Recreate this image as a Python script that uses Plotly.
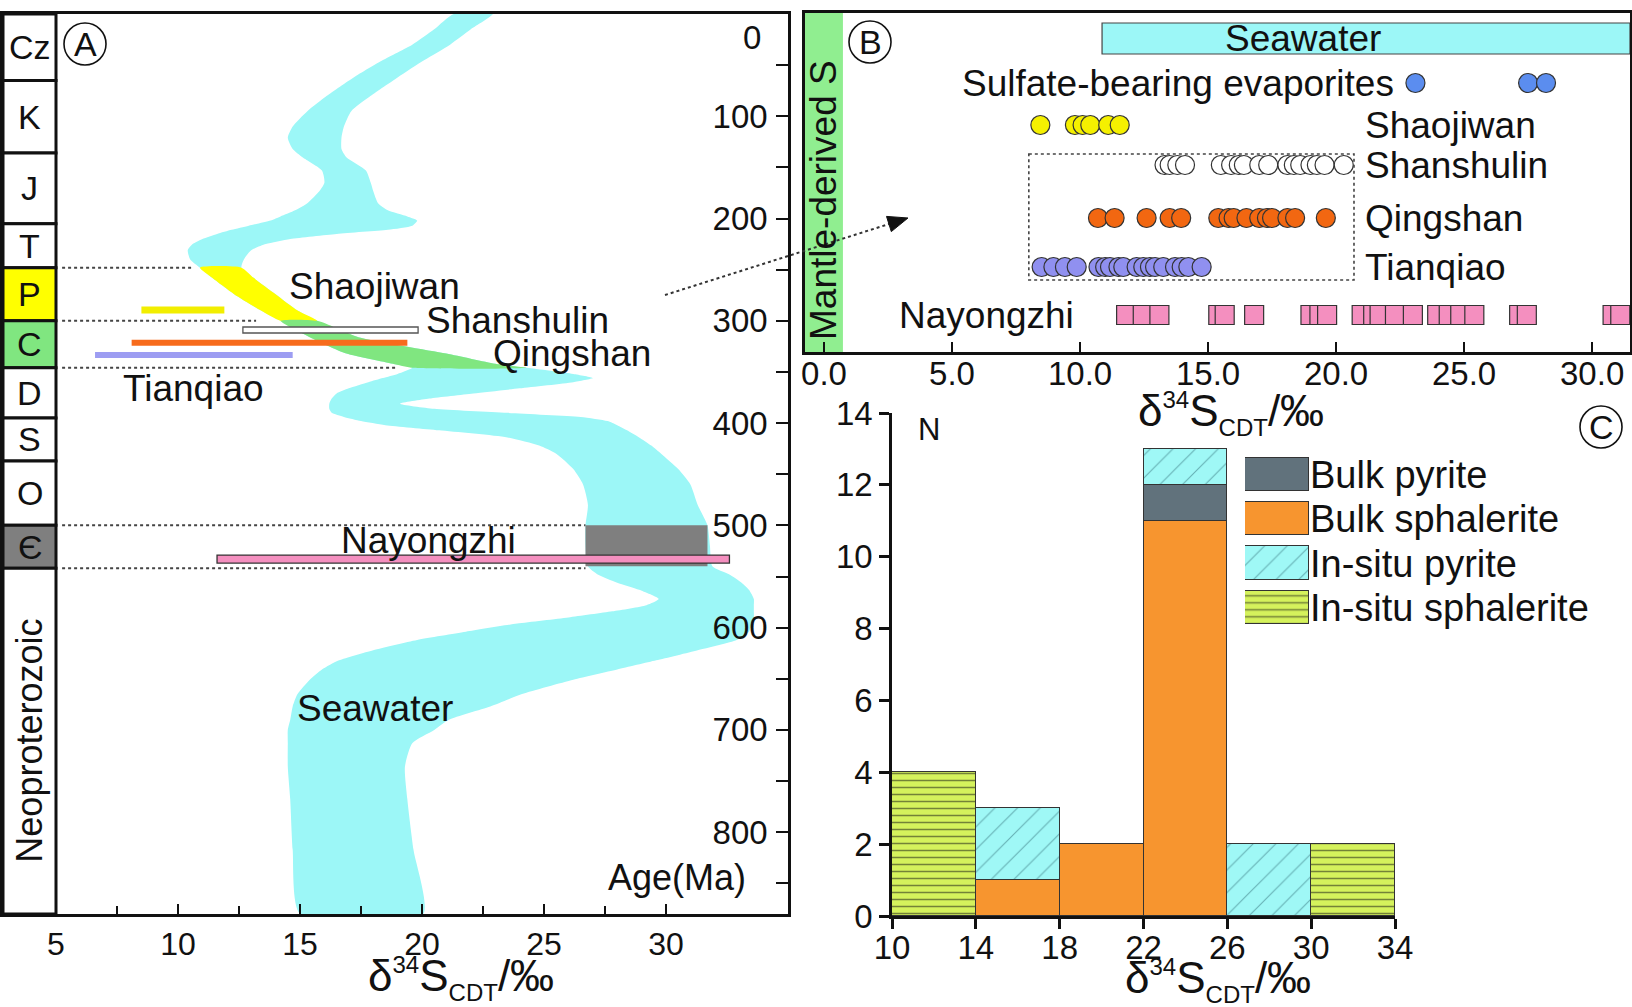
import plotly.graph_objects as go

W, H = 1632, 1007
def X(px): return px / W
def Y(py): return 1 - py / H

FONT = "Liberation Sans, Arial, Helvetica, sans-serif"
NARROW = "Liberation Sans Narrow, Arial Narrow, Liberation Sans, Arial, sans-serif"
BLACK = "#111111"
CYAN = "#9cf7f7"
YELLOW = "#ffff00"
GREEN = "#80e680"
MANTLE = "#90ee90"
GRAY = "#7f7f7f"
PINK = "#f48fbf"

# ---------------- Panel A data ----------------
# seawater sulfate d34S band: age (Ma), left edge, right edge (permil)
sw_age = [0, 15, 30, 45, 62, 80, 95, 110, 121, 132, 140, 153, 165, 173, 185, 192, 198, 202,
          207, 211, 215, 220, 225, 231, 240, 248, 258, 274, 290, 300, 316, 332, 342, 346,
          352, 356, 360, 366, 371, 376, 381, 386, 390, 394, 398, 402, 407, 414, 422, 430,
          445, 460, 480, 500, 520, 540, 548, 556, 563, 572, 578, 584, 590, 596, 604, 612,
          622, 632, 641, 651, 665, 677, 690, 700, 713, 736, 768, 817, 880]
sw_left = [21.3, 20.5, 19.6, 18.4, 17.2, 16.1, 15.3, 14.7, 14.5, 14.7, 15.1, 15.9, 16.0, 15.8,
           15.3, 14.8, 14.2, 13.8, 12.9, 12.2, 11.6, 11.0, 10.6, 10.4, 10.5, 10.9, 11.4, 12.3,
           13.4, 14.2, 15.4, 16.9, 18.8, 19.6, 19.0, 18.4, 17.8, 17.0, 16.5, 16.3, 16.2, 16.2,
           16.3, 16.8, 17.5, 18.5, 20.7, 23.5, 24.8, 25.5, 26.2, 26.6, 26.8, 26.7, 26.7, 26.8,
           27.2, 28.0, 28.9, 29.7, 29.2, 27.8, 26.0, 23.9, 21.8, 19.8, 18.0, 16.6, 15.9, 15.4,
           14.9, 14.7, 14.6, 14.5, 14.5, 14.5, 14.6, 14.7, 15.0]
sw_right = [22.9, 22.0, 21.15, 20.1, 19.0, 17.9, 17.1, 16.8, 16.7, 16.7, 16.9, 17.7, 17.9, 18.0,
            18.2, 18.6, 19.4, 19.8, 19.6, 18.6, 16.5, 14.6, 13.6, 13.0, 12.7, 12.6, 13.1, 14.0,
            14.9, 15.7, 17.4, 21.0, 23.0, 24.3, 26.2, 27.0, 26.2, 24.0, 22.1, 20.3, 19.1, 20.5,
            23.5, 26.5, 27.6, 28.0, 28.4, 28.9, 29.4, 29.8, 30.5, 31.0, 31.3, 31.7, 31.8, 31.9,
            32.6, 33.1, 33.4, 33.6, 33.6, 33.6, 33.6, 33.5, 33.4, 32.9, 31.3, 29.6, 28.0, 26.2,
            24.1, 22.8, 21.1, 20.5, 19.6, 19.3, 19.4, 19.65, 20.05]

periods = ["Cz", "K", "J", "T", "P", "C", "D", "S", "O", "Є", "Neoproterozoic"]
period_top = [0, 65, 136, 205, 248, 300, 346, 395, 437, 500, 542]
period_bottom = [65, 136, 205, 248, 300, 346, 395, 437, 500, 542, 880]

a_deposits = ["Shaojiwan", "Shanshulin", "Qingshan", "Tianqiao", "Nayongzhi"]
a_min = [8.5, 12.66, 8.1, 6.6, 11.6]
a_max = [11.9, 19.84, 19.4, 14.7, 32.6]
a_age = [289.5, 309.0, 321.5, 333.5, 533.0]

nay_sw_range = [26.7, 31.7]      # Nayongzhi-age seawater window
nay_sw_age = [500, 540]

boundary_ages = [248, 300, 346, 500, 542]
boundary_end = [10.6, 13.2, 18.9, 26.7, 26.7]

age_ticks = [100, 200, 300, 400, 500, 600, 700, 800]
a_xticks = [5, 10, 15, 20, 25, 30, 35]

# ---------------- Panel B data ----------------
evaporites = [23.1, 27.5, 28.2]
shaojiwan = [8.45, 9.8, 10.1, 10.4, 11.1, 11.55]
shanshulin = [13.3, 13.5, 13.8, 14.1, 15.5, 15.9, 16.2, 16.4, 17.0, 17.35, 18.1, 18.35,
              18.6, 19.0, 19.25, 19.55, 20.3]
qingshan = [10.7, 11.35, 12.6, 13.5, 13.95, 15.4, 15.8, 16.0, 16.5, 17.0, 17.3, 17.5,
            18.1, 18.4, 19.6]
tianqiao = [8.5, 8.96, 9.41, 9.87, 10.72, 10.98, 11.17, 11.5, 11.69, 12.21, 12.47, 12.73,
            12.93, 13.25, 13.71, 13.97, 14.23, 14.75]
nayongzhi = [11.8, 12.45, 13.1, 15.4, 15.65, 16.8, 19.0, 19.35, 19.65, 21.0, 21.45, 21.7,
             22.3, 23.0, 23.95, 24.4, 24.85, 25.4, 27.15, 27.45, 30.8, 31.1]
seawater_b = [10.86, 31.48]
mantle_range = [-0.742, 0.74]
b_xticks = [0, 5, 10, 15, 20, 25, 30]
b_xticklabels = ["0.0", "5.0", "10.0", "15.0", "20.0", "25.0", "30.0"]

# ---------------- Panel C data ----------------
bin_left = [10, 14, 18, 22, 26, 30]
bin_width = 4
bulk_pyrite = [0, 0, 0, 1, 0, 0]
bulk_sphalerite = [0, 1, 2, 11, 0, 0]
insitu_pyrite = [0, 2, 0, 1, 2, 0]
insitu_sphalerite = [4, 0, 0, 0, 0, 2]
c_xticks = [10, 14, 18, 22, 26, 30, 34]
c_yticks = [0, 2, 4, 6, 8, 10, 12, 14]

# ---------------- layout constants ----------------
A_XMIN, A_XMAX = 2.828, 35
A_YMAX = 880
PX_PER_MA = 900 / A_YMAX
B_ROW_UNIT = 339 / 7.0
def brow(py): return (py - 13) / B_ROW_UNIT
row_pos = {"Seawater": brow(38.5), "Sulfate-bearing evaporites": brow(83),
           "Shaojiwan": brow(125), "Shanshulin": brow(165), "Qingshan": brow(218),
           "Tianqiao": brow(267), "Nayongzhi": brow(315)}

fig = go.Figure()
shapes = []
ann = []

# ---- seawater band (panel A)
def band(i0, i1):
    ages = sw_age[i0:i1 + 1]
    xs = sw_left[i0:i1 + 1] + sw_right[i0:i1 + 1][::-1]
    ys = ages + ages[::-1]
    return xs + [xs[0]], ys + [ys[0]]

for (i0, i1, col) in [(0, len(sw_age) - 1, CYAN),
                      (sw_age.index(248), sw_age.index(300), YELLOW),
                      (sw_age.index(300), sw_age.index(346), GREEN)]:
    xs, ys = band(i0, i1)
    fig.add_trace(go.Scatter(x=xs, y=ys, fill="toself", fillcolor=col, mode="lines",
                             line=dict(width=0, color=col, shape="spline", smoothing=0.6),
                             xaxis="x", yaxis="y", hoverinfo="skip", showlegend=False))

# period column
period_colors = {"P": YELLOW, "C": GREEN, "Є": GRAY}
for name, top, bot in zip(periods, period_top, period_bottom):
    shapes.append(dict(type="rect", xref="x", yref="y", x0=A_XMIN, x1=5, y0=top, y1=bot,
                       fillcolor=period_colors.get(name, "white"),
                       line=dict(color=BLACK, width=3), layer="above"))
    ann.append(dict(xref="x", yref="y", x=(A_XMIN + 5) / 2, y=(top + bot) / 2, text=name,
                    showarrow=False, textangle=-90 if len(name) > 2 else 0,
                    xanchor="center", yanchor="middle",
                    font=dict(family=FONT, size=36 if len(name) > 2 else 34, color=BLACK)))

# dotted boundaries
for age, xe in zip(boundary_ages, boundary_end):
    shapes.append(dict(type="line", xref="x", yref="y", x0=5.25, x1=xe, y0=age, y1=age,
                       line=dict(color="#444444", width=2, dash="dot")))

# Nayongzhi seawater window
shapes.append(dict(type="rect", xref="x", yref="y", x0=nay_sw_range[0], x1=nay_sw_range[1],
                   y0=nay_sw_age[0], y1=nay_sw_age[1], fillcolor=GRAY, line=dict(width=0)))

a_style = {"Shaojiwan": (7, "#f2ee00", None), "Shanshulin": (6, "white", "#555555"),
           "Qingshan": (6, "#f76b1c", None), "Tianqiao": (6, "#9d9df2", None),
           "Nayongzhi": (8, PINK, "#333333")}
for name, lo, hi, age in zip(a_deposits, a_min, a_max, a_age):
    th, fc, lc = a_style[name]
    h = th / PX_PER_MA / 2
    shapes.append(dict(type="rect", xref="x", yref="y", x0=lo, x1=hi, y0=age - h, y1=age + h,
                       fillcolor=fc, line=dict(color=lc or fc, width=1.3 if lc else 0)))

LBL = dict(family=FONT, size=37, color=BLACK)
for txt, px, py, xa in [("Shaojiwan", 374, 287, "center"), ("Shanshulin", 424, 320, "left"),
                        ("Qingshan", 572, 353, "center"), ("Tianqiao", 193, 388, "center"),
                        ("Nayongzhi", 428, 540, "center"), ("Seawater", 375, 708, "center")]:
    ann.append(dict(xref="paper", yref="paper", x=X(px), y=Y(py), text=txt, showarrow=False,
                    xanchor=xa, yanchor="middle", font=LBL))
ann.append(dict(xref="paper", yref="paper", x=X(748), y=Y(877), text="Age(Ma)", showarrow=False,
                xanchor="right", yanchor="middle", font=dict(family=FONT, size=36, color=BLACK)))
ann.append(dict(xref="paper", yref="paper", x=X(763), y=Y(38), text="0", showarrow=False,
                xanchor="right", yanchor="middle", font=dict(family=FONT, size=33, color=BLACK)))

TITLE = "δ<sup><span style='font-size:24px'>34</span></sup>S<sub><span style='font-size:24px'>CDT</span></sub>/‰"
for px, py in [(461, 978), (1231, 413), (1218, 980)]:
    ann.append(dict(xref="paper", yref="paper", x=X(px), y=Y(py), text=TITLE, showarrow=False,
                    xanchor="center", yanchor="middle", font=dict(family=FONT, size=44, color=BLACK)))

# circled letters
for letter, cx, cy in [("A", 85, 44), ("B", 870, 42), ("C", 1601, 427)]:
    r = 21
    shapes.append(dict(type="circle", xref="paper", yref="paper", x0=X(cx - r), x1=X(cx + r),
                       y0=Y(cy + r), y1=Y(cy - r), line=dict(color=BLACK, width=1.6)))
    ann.append(dict(xref="paper", yref="paper", x=X(cx), y=Y(cy), text=letter, showarrow=False,
                    xanchor="center", yanchor="middle", font=dict(family=FONT, size=34, color=BLACK)))

# ---- Panel B
shapes.append(dict(type="rect", xref="x2", yref="y2 domain", x0=mantle_range[0], x1=mantle_range[1],
                   y0=0, y1=1, fillcolor=MANTLE, line=dict(width=0), layer="below"))
ann.append(dict(xref="paper", yref="paper", x=X(824), y=Y(200),
                text="Mantle-derived S", textangle=-90, showarrow=False,
                xanchor="center", yanchor="middle",
                font=dict(family=FONT, size=37, color=BLACK)))
sw_y = row_pos["Seawater"]
half = 15.5 / B_ROW_UNIT
shapes.append(dict(type="rect", xref="x2", yref="y2", x0=seawater_b[0], x1=seawater_b[1],
                   y0=sw_y - half, y1=sw_y + half, fillcolor=CYAN, line=dict(color="#444444", width=1.2)))
ann.append(dict(xref="x2", yref="y2", x=18.7, y=sw_y, text="Seawater", showarrow=False,
                font=LBL))
shapes.append(dict(type="rect", xref="x2", yref="y2", x0=8.0, x1=20.7, y0=brow(154), y1=brow(280),
                   line=dict(color="#444444", width=1.6, dash="dot")))

b_series = [("Sulfate-bearing evaporites", evaporites, "circle", "#5b8def"),
            ("Shaojiwan", shaojiwan, "circle", "#f5f000"),
            ("Shanshulin", shanshulin, "circle", "white"),
            ("Qingshan", qingshan, "circle", "#f26711"),
            ("Tianqiao", tianqiao, "circle", "#9090f0"),
            ("Nayongzhi", nayongzhi, "square", PINK)]
for name, vals, sym, col in b_series:
    fig.add_trace(go.Scatter(x=vals, y=[row_pos[name]] * len(vals), mode="markers",
                             marker=dict(symbol=sym, size=19, color=col,
                                         line=dict(color="#333333", width=1.2)),
                             xaxis="x2", yaxis="y2", hoverinfo="skip", showlegend=False))

for name, px, xa in [("Sulfate-bearing evaporites", 1396, "right"), ("Nayongzhi", 1076, "right"),
                     ("Shaojiwan", 1363, "left"), ("Shanshulin", 1363, "left"),
                     ("Qingshan", 1363, "left"), ("Tianqiao", 1363, "left")]:
    ann.append(dict(xref="paper", yref="y2", x=X(px), y=row_pos[name], text=name, showarrow=False,
                    xanchor=xa, yanchor="middle", font=LBL))

# arrow from panel A to panel B
shapes.append(dict(type="line", xref="paper", yref="paper", x0=X(665), y0=Y(295), x1=X(889), y1=Y(224),
                   line=dict(color="#333333", width=2, dash="dot")))
tri = [(908, 218), (891.3, 231.6), (886.5, 216.4)]
path = "M " + " L ".join(f"{X(a):.5f},{Y(b):.5f}" for a, b in tri) + " Z"
shapes.append(dict(type="path", xref="paper", yref="paper", path=path, fillcolor=BLACK,
                   line=dict(color=BLACK, width=1)))

# ---- Panel C
centers = [b + bin_width / 2 for b in bin_left]
c_style = {
    "Bulk pyrite": dict(color="#61727c"),
    "Bulk sphalerite": dict(color="#f7952f"),
    "In-situ pyrite": dict(color="#9ff8f6", pattern=dict(shape="/", fgcolor="#2d6a73", size=16,
                                                         solidity=0.07, fillmode="overlay")),
    "In-situ sphalerite": dict(color="#d5f25c", pattern=dict(shape="-", fgcolor="#111111", size=7,
                                                             solidity=0.22, fillmode="overlay")),
}
for name, vals in [("Bulk sphalerite", bulk_sphalerite), ("Bulk pyrite", bulk_pyrite),
                   ("In-situ pyrite", insitu_pyrite), ("In-situ sphalerite", insitu_sphalerite)]:
    fig.add_trace(go.Bar(x=centers, y=[v if v else None for v in vals], width=bin_width,
                         marker=dict(line=dict(color="#333333", width=1), **c_style[name]),
                         xaxis="x3", yaxis="y3", hoverinfo="skip", showlegend=False))

legend_names = ["Bulk pyrite", "Bulk sphalerite", "In-situ pyrite", "In-situ sphalerite"]
for name in legend_names:
    fig.add_trace(go.Bar(x=[1], y=[name], orientation="h", width=0.75,
                         marker=dict(line=dict(color="#333333", width=1), **c_style[name]),
                         xaxis="x4", yaxis="y4", hoverinfo="skip", showlegend=False))

ann.append(dict(xref="paper", yref="paper", x=X(929), y=Y(429), text="N", showarrow=False,
                font=dict(family=FONT, size=31, color=BLACK)))

axis_common = dict(showgrid=False, zeroline=False, linecolor=BLACK, tickcolor=BLACK, automargin=False)
fig.update_layout(
    width=W, height=H, autosize=False, margin=dict(l=0, r=0, t=0, b=0, pad=0),
    paper_bgcolor="white", plot_bgcolor="rgba(0,0,0,0)", barmode="stack", bargap=0,
    showlegend=False, font=dict(family=FONT, color=BLACK),
    xaxis=dict(domain=[X(3), X(788)], range=[A_XMIN, A_XMAX], anchor="y", showline=True, mirror=True,
               linewidth=3, ticks="inside", ticklen=10, tickwidth=2, tickvals=a_xticks,
               tickfont=dict(family=NARROW, size=32, color=BLACK),
               minor=dict(tickvals=[v + 2.5 for v in a_xticks[:-1]], ticks="inside", ticklen=8,
                          tickwidth=2, tickcolor=BLACK), **axis_common),
    yaxis=dict(domain=[Y(914), Y(14)], range=[A_YMAX, 0], anchor="x", side="right", showline=True,
               mirror=True, linewidth=3, ticks="inside", ticklen=12, tickwidth=2, tickvals=age_ticks,
               ticklabelposition="inside", ticklabelstandoff=12,
               tickfont=dict(family=FONT, size=33, color=BLACK),
               minor=dict(tickvals=[v - 50 for v in age_ticks] + [850], ticks="inside", ticklen=12,
                          tickwidth=2, tickcolor=BLACK), **axis_common),
    xaxis2=dict(domain=[X(805), X(1630)], range=[mantle_range[0], seawater_b[1]], anchor="y2",
                showline=True, mirror=True, linewidth=3, ticks="inside", ticklen=10, tickwidth=2,
                tickvals=b_xticks, ticktext=b_xticklabels, ticklabelstandoff=-10,
                tickfont=dict(family=FONT, size=33, color=BLACK), **axis_common),
    yaxis2=dict(domain=[Y(352), Y(13)], range=[7, 0], anchor="x2", showline=True, mirror=True,
                linewidth=3, showticklabels=False, ticks="", **axis_common),
    xaxis3=dict(domain=[X(892), X(1395)], range=[10, 34], anchor="y3", showline=True, linewidth=2.5,
                ticks="outside", ticklen=10, tickwidth=2.5, tickvals=c_xticks, ticklabelstandoff=-9,
                tickfont=dict(family=FONT, size=33, color=BLACK), **axis_common),
    yaxis3=dict(domain=[Y(916), Y(413)], range=[0, 14], anchor="x3", showline=True, linewidth=2.5,
                ticks="outside", ticklen=10, tickwidth=2.5, tickvals=c_yticks,
                tickfont=dict(family=FONT, size=33, color=BLACK), **axis_common),
    xaxis4=dict(domain=[X(1245), X(1309)], range=[0, 1], anchor="y4", visible=False, automargin=False),
    yaxis4=dict(domain=[Y(630), Y(452.3)], anchor="x4", type="category", categoryorder="array",
                categoryarray=legend_names, tickmode="array", tickvals=legend_names,
                ticktext=legend_names, range=[3.5, -0.5], side="right", showline=False,
                ticks="", tickfont=dict(family=FONT, size=38, color=BLACK), showgrid=False,
                zeroline=False, automargin=False),
    shapes=shapes, annotations=ann,
)

fig.write_html("out.html")
